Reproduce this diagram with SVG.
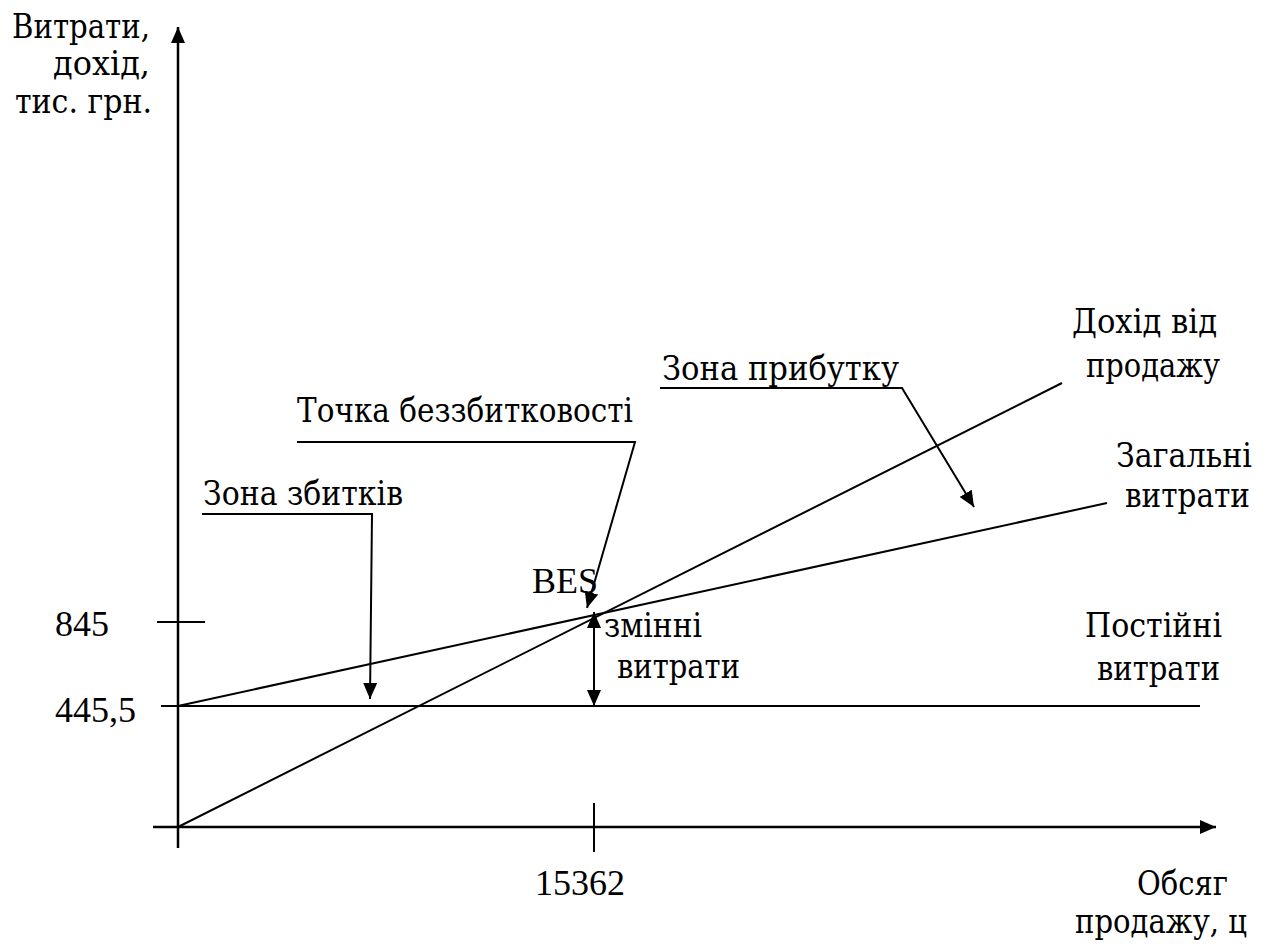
<svg xmlns="http://www.w3.org/2000/svg" width="1270" height="947" viewBox="0 0 1270 947">
<style>
text{font-family:"Liberation Serif","Times New Roman",serif;font-size:36px;fill:#000}
text.cy{font-family:"DejaVu Serif","Liberation Serif",serif;font-size:33px}
.ln{stroke:#000;stroke-width:2;fill:none}
.ax{stroke:#000;stroke-width:2.5;fill:none}
.e{text-anchor:end}
</style>
<defs>
<marker id="ah" markerUnits="userSpaceOnUse" markerWidth="16" markerHeight="14" refX="16" refY="7" orient="auto">
<path d="M0,0 L16,7 L0,14 z" fill="#000"/>
</marker>
<marker id="ahs" markerUnits="userSpaceOnUse" markerWidth="16" markerHeight="14" refX="0" refY="7" orient="auto">
<path d="M16,0 L0,7 L16,14 z" fill="#000"/>
</marker>
</defs>
<rect width="1270" height="947" fill="#fff"/>
<g id="connectors">
<line id="y-axis" class="ax" x1="178" y1="848" x2="178" y2="27" marker-end="url(#ah)"/>
<line id="x-axis" class="ax" x1="153" y1="827" x2="1216" y2="827" marker-end="url(#ah)"/>
<line id="fixed-costs" class="ln" x1="161" y1="706" x2="1200" y2="706"/>
<line id="total-costs" class="ln" x1="178" y1="706" x2="1107" y2="503"/>
<line id="revenue" class="ln" x1="178" y1="827" x2="1062" y2="383"/>
<line id="tick-845" class="ln" x1="157" y1="622" x2="205" y2="622"/>
<line id="tick-15362" class="ln" x1="594" y1="803" x2="594" y2="852"/>
<line id="variable-costs" class="ln" x1="594" y1="612" x2="594" y2="706" marker-start="url(#ahs)" marker-end="url(#ah)"/>
<polyline id="loss-leader" class="ln" points="202,514 372,514 370,699" marker-end="url(#ah)"/>
<polyline id="bep-leader" class="ln" points="297,442 635,442 587,608" marker-end="url(#ah)"/>
<polyline id="profit-leader" class="ln" points="660,388 902,388 974,507" marker-end="url(#ah)"/>
</g>
<g id="y-label">
<text class="cy" x="12" y="38" textLength="138" lengthAdjust="spacingAndGlyphs">Витрати,</text>
<text class="cy" x="53" y="75" textLength="97" lengthAdjust="spacingAndGlyphs">дохід,</text>
<text class="cy" x="15" y="113" textLength="137" lengthAdjust="spacingAndGlyphs">тис. грн.</text>
</g>
<g id="val-845"><text x="55" y="636">845</text></g>
<g id="val-445"><text x="55" y="722">445,5</text></g>
<g id="val-15362"><text x="535" y="895">15362</text></g>
<g id="x-label">
<text class="cy" x="1137" y="895" textLength="91" lengthAdjust="spacingAndGlyphs">Обсяг</text>
<text class="cy" x="1075" y="933" textLength="172" lengthAdjust="spacingAndGlyphs">продажу, ц</text>
</g>
<g id="loss-zone"><text class="cy" x="203" y="505" textLength="200" lengthAdjust="spacingAndGlyphs">Зона збитків</text></g>
<g id="bep"><text class="cy" x="297" y="422" textLength="336" lengthAdjust="spacingAndGlyphs">Точка беззбитковості</text></g>
<g id="profit-zone"><text class="cy" x="662" y="380" textLength="237" lengthAdjust="spacingAndGlyphs">Зона прибутку</text></g>
<g id="bes"><text x="532" y="593">BES</text></g>
<g id="var-label">
<text class="cy" x="604" y="637" textLength="98" lengthAdjust="spacingAndGlyphs">змінні</text>
<text class="cy" x="617" y="678" textLength="123" lengthAdjust="spacingAndGlyphs">витрати</text>
</g>
<g id="revenue-label">
<text class="cy" x="1072" y="333" textLength="145" lengthAdjust="spacingAndGlyphs">Дохід від</text>
<text class="cy" x="1086" y="377" textLength="134" lengthAdjust="spacingAndGlyphs">продажу</text>
</g>
<g id="total-label">
<text class="cy" x="1116" y="467" textLength="136" lengthAdjust="spacingAndGlyphs">Загальні</text>
<text class="cy" x="1125" y="507" textLength="125" lengthAdjust="spacingAndGlyphs">витрати</text>
</g>
<g id="fixed-label">
<text class="cy" x="1085" y="637" textLength="137" lengthAdjust="spacingAndGlyphs">Постійні</text>
<text class="cy" x="1097" y="680" textLength="123" lengthAdjust="spacingAndGlyphs">витрати</text>
</g>
</svg>
